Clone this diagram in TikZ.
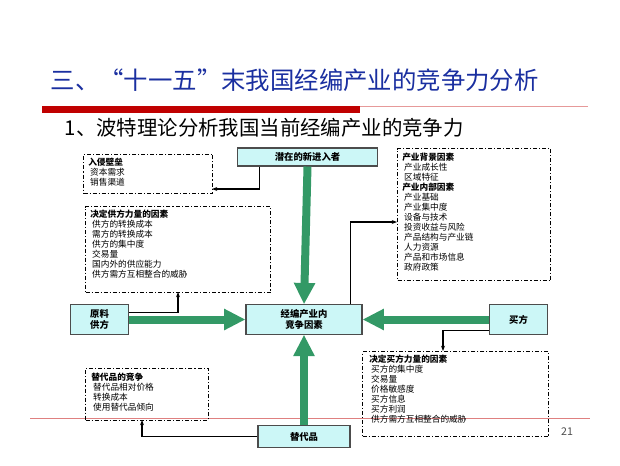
\documentclass[tikz,border=0pt]{standalone}
\usepackage{fontspec}
\setmainfont{Noto Sans CJK SC}
\usetikzlibrary{arrows.meta}
\definecolor{boxfill}{HTML}{CCF7F7}
\definecolor{greenarrow}{HTML}{339966}
\definecolor{titleblue}{HTML}{1A2FA0}
\definecolor{barred}{HTML}{C00000}

\tikzset{
  forcebox/.style={draw=black!70,fill=boxfill,thick,font=\fontsize{7}{8.5}\selectfont\bfseries,align=center,inner sep=0pt},
  factorbox/.style={draw,thick,dash pattern=on 3pt off 1.5pt on 0.8pt off 1.5pt},
  factortext/.style={anchor=north west,align=left,inner sep=0pt,font=\fontsize{6.5}{7.5}\selectfont},
  force/.style={greenarrow,line width=6pt,-{Triangle[length=16pt,width=15pt]}},
  link/.style={thick,-{Stealth[length=4pt]}}
}

\begin{document}
\begin{tikzpicture}[x=0.75pt,y=-0.75pt]
\useasboundingbox (0,0) rectangle (620,465);

% title and rules
\node[anchor=west,text=titleblue,font=\fontsize{18.3}{20}\selectfont](title) at (46,80){三、“十一五”末我国经编产业的竞争力分析};
\fill[barred] (42,106) rectangle (360,113);
\draw[barred!40,thin] (360,106) -- (588,106);
\node[anchor=west,font=\fontsize{15.3}{17}\selectfont](subtitle) at (60,128){1、波特理论分析我国当前经编产业的竞争力};
\draw[barred!50,thin] (30,418) -- (590,418);

% five forces
\node[forcebox,minimum width=105pt,minimum height=13.5pt](entrant) at (307.5,157){潜在的新进入者};
\node[forcebox,minimum width=44pt,minimum height=22pt](supplier) at (99.5,319.5){原料\\供方};
\node[forcebox,minimum width=87pt,minimum height=22pt](rivalry) at (304,319.5){经编产业内\\竞争因素};
\node[forcebox,minimum width=44pt,minimum height=22pt](buyer) at (518.5,319.5){买方};
\node[forcebox,minimum width=69pt,minimum height=17pt](substitute) at (304,436.5){替代品};

% factor boxes
\node[factorbox,minimum width=97pt,minimum height=29pt,anchor=north west](barrierbox) at (83,154){};
\node[factortext] at (88,158){\textbf{入侵壁垒}\\\ 资本需求\\\ 销售渠道};
\node[factorbox,minimum width=139pt,minimum height=64.5pt,anchor=north west](supplybox) at (85,206){};
\node[factortext] at (90,210){\textbf{决定供方力量的因素}\\\ 供方的转换成本\\\ 需方的转换成本\\\ 供方的集中度\\\ 交易量\\\ 国内外的供应能力\\\ 供方需方互相整合的威胁};
\node[factorbox,minimum width=115pt,minimum height=99pt,anchor=north west](industrybox) at (397,148){};
\node[factortext] at (402,153){\textbf{产业背景因素}\\\ 产业成长性\\\ 区域特征\\\textbf{产业内部因素}\\\ 产业基础\\\ 产业集中度\\\ 设备与技术\\\ 投资收益与风险\\\ 产品结构与产业链\\\ 人力资源\\\ 产品和市场信息\\\ 政府政策};
\node[factorbox,minimum width=139.5pt,minimum height=64pt,anchor=north west](buybox) at (362,351){};
\node[factortext] at (369,355){\textbf{决定买方力量的因素}\\\ 买方的集中度\\\ 交易量\\\ 价格敏感度\\\ 买方信息\\\ 买方利润\\\ 供方需方互相整合的威胁};
\node[factorbox,minimum width=92pt,minimum height=39pt,anchor=north west](subbox) at (85,368){};
\node[factortext] at (91,373){\textbf{替代品的竞争}\\\ 替代品相对价格\\\ 转换成本\\\ 使用替代品倾向};

\node[font=\fontsize{8}{9}\selectfont,text=black!70](pagenum) at (567,432){21};

% link end points
\coordinate (barrierin) at (212,189);
\coordinate (supplyin) at (178,292);
\coordinate (industryin) at (397,222);
\coordinate (buyin) at (443,351);
\coordinate (subin) at (142,420);

% green force arrows
\draw[force] (entrant.south) -- (rivalry.north);
\draw[force] (substitute.north) -- (rivalry.south);
\draw[force] (supplier.east) -- (rivalry.west);
\draw[force] (buyer.west) -- (rivalry.east);

% factor links
\draw[link] ([xshift=-36]entrant.south) |- (barrierin);
\draw[link] ([yshift=-6]supplier.north east) -| (supplyin);
\draw[link] ([xshift=35]rivalry.north) |- (industryin);
\draw[link] ([yshift=-8]buyer.west) -| (buyin);
\draw[link] (substitute.west) -| (subin);
\end{tikzpicture}
\end{document}
